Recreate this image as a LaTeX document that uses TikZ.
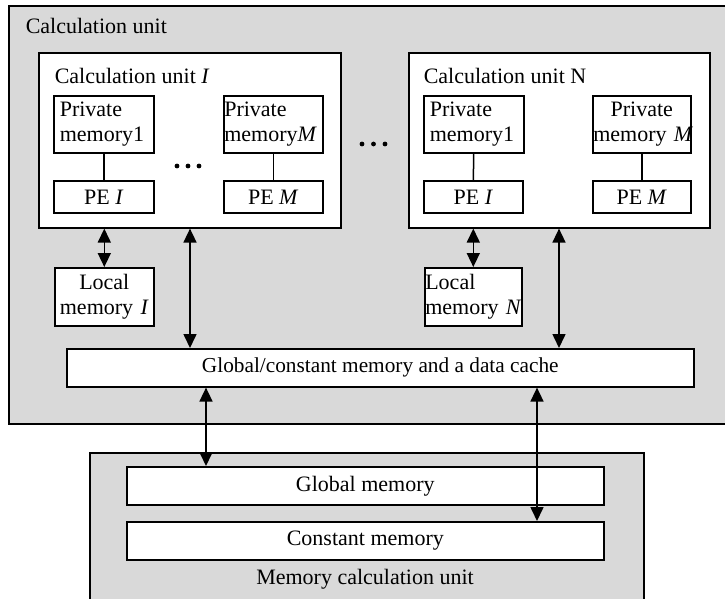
\documentclass[tikz,border=0pt]{standalone}
\usepackage{fontspec}
\setmainfont{Liberation Serif}
\usetikzlibrary{arrows.meta,calc}
\definecolor{bg}{HTML}{D9D9D9}
\begin{document}
\begin{tikzpicture}[x=1pt,y=-1pt,line width=1.5pt,
  every node/.style={font=\fontsize{22}{25}\selectfont},
  box/.style={draw, fill=white, inner sep=0pt, line width=1.6pt, anchor=north west},
  frame/.style={draw, fill=bg, inner sep=0pt, line width=1.6pt, anchor=north west},
  dbl/.style={{Triangle[length=14pt,width=13pt]}-{Triangle[length=14pt,width=13pt]}, line width=1.6pt},
  lbl/.style={inner sep=0pt, anchor=base west}]
\useasboundingbox (0,0) rectangle (725,598);
% outer frames
\node[frame, minimum width=720pt, minimum height=418pt] (outer) at (8,5) {};
\node[lbl] (touter) at (25,33) {Calculation unit};
\node[frame, minimum width=554pt, minimum height=160pt] (mcu) at (89,452) {};
% calculation unit 1
\node[box, minimum width=302pt, minimum height=175pt] (cu1) at (38,52) {};
\node[lbl] (tcu1) at (54,83) {Calculation unit \textit{I}};
\node[box, minimum height=57pt, text width=88pt, inner xsep=6pt, align=left] (pm11) at (53,95) {Private\\memory1};
\node[box, minimum width=100pt, minimum height=32pt] (pe11) at (53,180) {PE \textit{I}};
\node[box, minimum height=57pt, text width=98pt, inner xsep=0.5pt, align=left] (pm1m) at (223,95) {Private\\\mbox{memory\textit{M}}};
\node[box, minimum width=99pt, minimum height=32pt] (pe1m) at (223,180) {PE \textit{M}};
% calculation unit N
\node[box, minimum width=301pt, minimum height=175pt] (cun) at (408,52) {};
\node[lbl] (tcun) at (423,83) {Calculation unit N};
\node[box, minimum height=57pt, text width=88pt, inner xsep=6pt, align=left] (pmn1) at (423,95) {Private\\memory1};
\node[box, minimum width=99pt, minimum height=32pt] (pen1) at (423,180) {PE \textit{I}};
\node[box, minimum height=57pt, text width=97pt, inner xsep=0.5pt, align=center] (pmnm) at (592,95) {Private\\\mbox{memory \textit{M}}};
\node[box, minimum width=98pt, minimum height=32pt] (penm) at (592,180) {PE \textit{M}};
% local memories
\node[box, minimum height=58pt, text width=98pt, inner xsep=0.5pt, align=center] (loc1) at (54,267) {Local\\\mbox{memory \textit{I}}};
\node[box, minimum height=58pt, text width=96pt, inner xsep=0.5pt, align=left] (locn) at (424,267) {Local\\\mbox{memory \textit{N}}};
% global cache
\node[box, minimum width=627pt, minimum height=38pt, font=\fontsize{21.3}{25}\selectfont] (glob) at (66,348) {Global/constant memory and a data cache};
% memory unit
\node[box, minimum width=477pt, minimum height=38pt] (gmem) at (126,466) {Global memory};
\node[box, minimum width=477pt, minimum height=38pt] (cmem) at (126,521) {Constant memory};
\node[inner sep=0pt, anchor=base] (tmcu) at (365,584) {Memory calculation unit};
% dots
\foreach \x in {177,188,199} \fill (\x,166) circle (2.4pt);
\foreach \x in {362,373.5,385} \fill (\x,144) circle (2.4pt);
% connectors
\draw (pm11) -- (pe11);
\draw (pm1m) -- (pe1m);
\draw (pmn1) -- (pen1);
\draw (pmnm) -- (penm);
\coordinate (x1) at (190,0);
\coordinate (xn) at (559,0);
\coordinate (g1) at (206,0);
\coordinate (g2) at (537,0);
\draw[dbl] (cu1.south -| loc1.north) -- (loc1.north);
\draw[dbl] (cun.south -| locn.north) -- (locn.north);
\draw[dbl] (cu1.south -| x1) -- (glob.north -| x1);
\draw[dbl] (cun.south -| xn) -- (glob.north -| xn);
\draw[dbl] (glob.south -| g1) -- (gmem.north -| g1);
\draw[dbl] (glob.south -| g2) -- (cmem.north -| g2);
\end{tikzpicture}
\end{document}
